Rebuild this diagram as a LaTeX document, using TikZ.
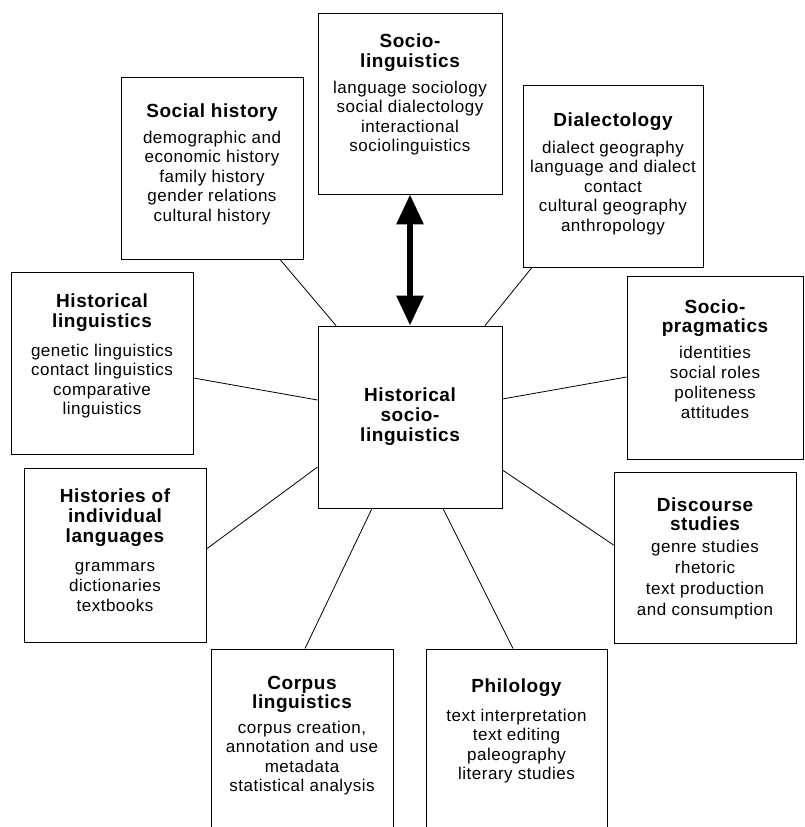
\documentclass[tikz,border=0pt]{standalone}
\usepackage{fontspec}
\newfontfamily\boxsans[LetterSpace=3]{Liberation Sans}
\usetikzlibrary{arrows.meta}

\begin{document}
\begin{tikzpicture}[x=1pt,y=-1pt,
  topic/.style={draw,line width=0.9pt,inner sep=0pt},
  head/.style={align=center,inner sep=0pt,font=\boxsans\bfseries\fontsize{19}{#1}\selectfont},
  items/.style={align=center,inner sep=0pt,font=\boxsans\fontsize{17}{#1}\selectfont},
  link/.style={line width=0.8pt}]
\clip (0,0) rectangle (804,827);
% boxes
\node[topic,minimum width=184pt,minimum height=181pt] (sl) at (410,103.5) {};
\node[topic,minimum width=182pt,minimum height=182pt] (sh) at (212,168) {};
\node[topic,minimum width=180pt,minimum height=182pt] (di) at (613,176) {};
\node[topic,minimum width=182pt,minimum height=182pt] (hl) at (102,363) {};
\node[topic,minimum width=176pt,minimum height=183pt] (sp) at (715,367.5) {};
\node[topic,minimum width=184pt,minimum height=182pt] (hs) at (410,417) {};
\node[topic,minimum width=182pt,minimum height=174pt] (hi) at (115,555) {};
\node[topic,minimum width=182pt,minimum height=171pt] (ds) at (705,557.5) {};
\node[topic,minimum width=182pt,minimum height=191pt] (co) at (302,744.5) {};
\node[topic,minimum width=181pt,minimum height=191pt] (ph) at (516.5,744.5) {};
% texts
\node[head=19.5] (sl-t) at (410,52.5) {Socio-\\linguistics};
\node[items=19.5] (sl-b) at (410,118) {language sociology\\social dialectology\\interactional\\sociolinguistics};
\node[head=19.5] (sh-t) at (212,113) {Social history};
\node[items=19.5] (sh-b) at (212,178) {demographic and\\economic history\\family history\\gender relations\\cultural history};
\node[head=19.5] (di-t) at (613,122) {Dialectology};
\node[items=19.5] (di-b) at (613,188) {dialect geography\\language and dialect\\contact\\cultural geography\\anthropology};
\node[head=20] (hl-t) at (102,313) {Historical\\linguistics};
\node[items=19.5] (hl-b) at (102,381) {genetic linguistics\\contact linguistics\\comparative\\linguistics};
\node[head=19] (sp-t) at (715,318) {Socio-\\pragmatics};
\node[items=20] (sp-b) at (715,382) {identities\\social roles\\politeness\\attitudes};
\node[head=20] (hs-t) at (410,417) {Historical\\socio-\\linguistics};
\node[head=20] (hi-t) at (115,518) {Histories of\\individual\\languages};
\node[items=20] (hi-b) at (115,587) {grammars\\dictionaries\\textbooks};
\node[head=19] (ds-t) at (705,514.5) {Discourse\\studies};
\node[items=21] (ds-b) at (705,579.5) {genre studies\\rhetoric\\text production\\and consumption};
\node[head=19] (co-t) at (302,694) {Corpus\\linguistics};
\node[items=19.5] (co-b) at (302,758) {corpus creation,\\annotation and use\\metadata\\statistical analysis};
\node[head=19] (ph-t) at (516.5,688) {Philology};
\node[items=19.5] (ph-b) at (516.5,746) {text interpretation\\text editing\\paleography\\literary studies};
% connectors
\draw[line width=6pt,{Triangle[length=30pt,width=26pt]}-{Triangle[length=30pt,width=26pt]}] (sl.south) -- (hs.north);
\draw[link] ([xshift=68pt]sh.south) -- ([xshift=-74pt]hs.north);
\draw[link] ([xshift=-81pt]di.south) -- ([xshift=75pt]hs.north);
\draw[link] ([yshift=-15pt]hl.east) -- ([yshift=17pt]hs.west);
\draw[link] ([yshift=-9.5pt]sp.west) -- ([yshift=18pt]hs.east);
\draw[link] ([yshift=6pt]hi.east) -- ([yshift=-50pt]hs.west);
\draw[link] ([yshift=12.5pt]ds.west) -- ([yshift=-53pt]hs.east);
\draw[link] ([xshift=-38pt]hs.south) -- ([xshift=3pt]co.north);
\draw[link] ([xshift=33pt]hs.south) -- ([xshift=-3.5pt]ph.north);
\end{tikzpicture}
\end{document}
